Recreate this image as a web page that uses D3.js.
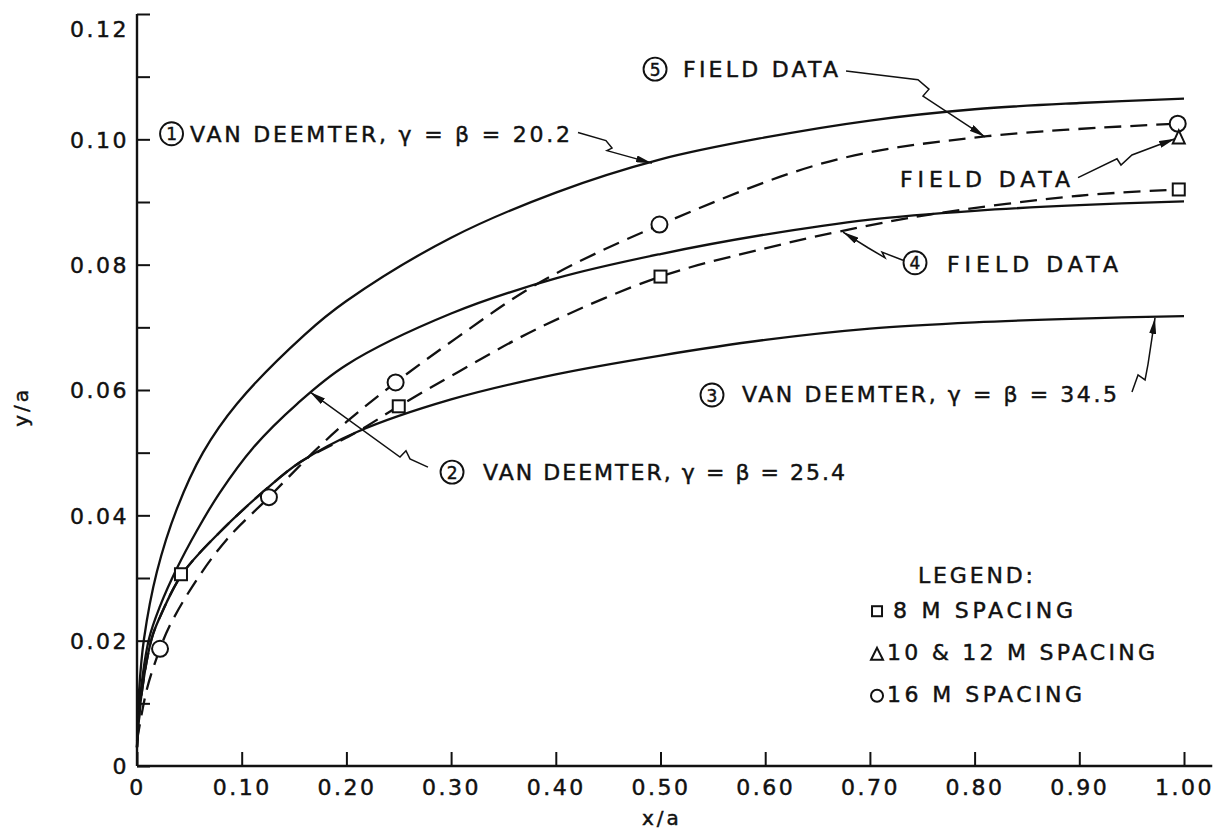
<!DOCTYPE html>
<html><head><meta charset="utf-8">
<script src="https://cdn.jsdelivr.net/npm/d3@7"></script>
<style>
body{margin:0;background:#fff;}
svg{display:block;}
text{font-family:"DejaVu Sans","Noto Sans",sans-serif;fill:#111;stroke:#111;stroke-width:0.45px;}
</style></head><body>
<svg id="chart" width="1230" height="832"></svg>
<script>
// ---------- data ----------
const xTickValues = [0, 0.1, 0.2, 0.3, 0.4, 0.5, 0.6, 0.7, 0.8, 0.9, 1.0];
const xTickLabels = ["0", "0.10", "0.20", "0.30", "0.40", "0.50", "0.60", "0.70", "0.80", "0.90", "1.00"];
const yTickValues = [0, 0.01, 0.02, 0.03, 0.04, 0.05, 0.06, 0.07, 0.08, 0.09, 0.10, 0.11, 0.12];
const yLabelValues = [0, 0.02, 0.04, 0.06, 0.08, 0.10, 0.12];
const yLabelText = ["0", "0.02", "0.04", "0.06", "0.08", "0.10", "0.12"];

// (1) Van Deemter, gamma = beta = 20.2
const curve1X = [0, 0.002, 0.0067, 0.019, 0.038, 0.063, 0.0955, 0.16, 0.2, 0.3, 0.4, 0.5, 0.6, 0.7, 0.8, 0.9, 1.0];
const curve1Y = [0.003, 0.012, 0.0203, 0.031, 0.041, 0.0500, 0.0578, 0.0688, 0.0742, 0.0843, 0.0915, 0.0968, 0.1003, 0.1030, 0.1048, 0.1058, 0.1065];
// (2) Van Deemter, gamma = beta = 25.4
const curve2X = [0, 0.003, 0.0115, 0.022, 0.038, 0.057, 0.079, 0.111, 0.153, 0.2, 0.3, 0.4, 0.5, 0.6, 0.7, 0.8, 0.9, 1.0];
const curve2Y = [0.003, 0.011, 0.0203, 0.0255, 0.0315, 0.0375, 0.0436, 0.0508, 0.0578, 0.0640, 0.0722, 0.0778, 0.0817, 0.0848, 0.0872, 0.0886, 0.0895, 0.0901];
// (3) Van Deemter, gamma = beta = 34.5
const curve3X = [0, 0.004, 0.014, 0.022, 0.043, 0.079, 0.127, 0.156, 0.21, 0.3, 0.4, 0.5, 0.6, 0.7, 0.8, 0.9, 1.0];
const curve3Y = [0.003, 0.011, 0.0203, 0.0238, 0.0306, 0.0373, 0.0447, 0.0485, 0.0533, 0.0585, 0.0625, 0.0655, 0.0680, 0.0698, 0.0708, 0.0714, 0.0718];
// (4) Field data (8 m spacing), dashed
const field4X = [0, 0.004, 0.014, 0.022, 0.043, 0.079, 0.127, 0.156, 0.21, 0.25, 0.306, 0.385, 0.5, 0.6, 0.671, 0.757, 0.9, 0.995];
const field4Y = [0.003, 0.011, 0.0203, 0.0238, 0.0306, 0.0373, 0.0447, 0.0485, 0.0533, 0.0574, 0.0628, 0.0700, 0.0781, 0.0826, 0.0853, 0.0880, 0.0910, 0.0920];
// (5) Field data (16 m spacing), dashed
const field5X = [0, 0.0095, 0.022, 0.031, 0.055, 0.086, 0.126, 0.168, 0.2, 0.247, 0.306, 0.385, 0.5, 0.662, 0.812, 0.995];
const field5Y = [0.004, 0.0123, 0.0187, 0.0223, 0.0292, 0.0362, 0.0429, 0.0500, 0.0549, 0.0612, 0.0684, 0.0772, 0.0864, 0.0965, 0.1005, 0.1025];

// measured points
const sq8X = [0.042, 0.25, 0.5, 0.995];
const sq8Y = [0.0306, 0.0574, 0.0781, 0.0920];
const tri1012X = [0.995];
const tri1012Y = [0.1003];
const circ16X = [0.022, 0.126, 0.247, 0.499, 0.994];
const circ16Y = [0.0187, 0.0429, 0.0612, 0.0864, 0.1025];

// ---------- layout ----------
const W = 1230, H = 832;
const svg = d3.select("#chart");
svg.append("rect").attr("width", W).attr("height", H).attr("fill", "#fff");

const x = d3.scaleLinear().domain([0, 1]).range([137, 1184]);
const y = d3.scaleLinear().domain([0, 0.12]).range([766, 14]);

const defs = svg.append("defs");
defs.append("marker").attr("id", "arrow")
  .attr("viewBox", "0 0 16 7").attr("refX", 16).attr("refY", 3.5)
  .attr("markerWidth", 16).attr("markerHeight", 7)
  .attr("markerUnits", "userSpaceOnUse").attr("orient", "auto")
  .append("path").attr("d", "M0,0 L16,3.5 L0,7 Z").attr("fill", "#111");

const ink = "#111";

// ---------- axes ----------
const gy = svg.append("g").attr("transform", `translate(${x(0)},0)`)
  .call(d3.axisLeft(y).tickValues(yTickValues).tickSizeInner(-13).tickSizeOuter(0).tickPadding(8)
    .tickFormat(d => { const i = yLabelValues.findIndex(v => Math.abs(v - d) < 1e-9); return i >= 0 ? yLabelText[i] : ""; }));
gy.select(".domain").remove();
gy.selectAll(".tick line").attr("stroke", ink).attr("stroke-width", 2);
gy.selectAll(".tick text").attr("font-size", 22).attr("letter-spacing", "2.5px")
  .attr("font-family", "DejaVu Sans").attr("fill", ink)
  .attr("dy", d => Math.abs(d - 0.12) < 1e-9 ? "1.0em" : "0.36em");

const gx = svg.append("g").attr("transform", `translate(0,${y(0)})`)
  .call(d3.axisBottom(x).tickValues(xTickValues).tickSizeInner(-14).tickSizeOuter(0).tickPadding(13)
    .tickFormat((d, i) => xTickLabels[i]));
gx.select(".domain").remove();
gx.selectAll(".tick line").attr("stroke", ink).attr("stroke-width", 2);
gx.selectAll(".tick text").attr("font-size", 22).attr("letter-spacing", "2.5px")
  .attr("font-family", "DejaVu Sans").attr("fill", ink);

// axis lines
svg.append("line").attr("x1", x(0)).attr("x2", x(1.027)).attr("y1", y(0)).attr("y2", y(0))
  .attr("stroke", ink).attr("stroke-width", 2.4);
svg.append("line").attr("x1", x(0)).attr("x2", x(0)).attr("y1", y(0)).attr("y2", y(0.12))
  .attr("stroke", ink).attr("stroke-width", 2.4);

// axis titles
svg.append("text").attr("x", x(0.5014)).attr("y", y(-0.0094)).attr("text-anchor", "middle")
  .attr("font-size", 20).attr("letter-spacing", "3px").text("x/a");
svg.append("text").attr("transform", `translate(${x(-0.1137) + 10},${y(0.0573)}) rotate(-90)`)
  .attr("text-anchor", "middle").attr("font-size", 20).attr("letter-spacing", "3px").text("y/a");

// ---------- curves ----------
const line = d3.line().x(d => x(d[0])).y(d => y(d[1])).curve(d3.curveCatmullRom.alpha(0.5));
const zip = (a, b) => a.map((v, i) => [v, b[i]]);

[[curve1X, curve1Y], [curve2X, curve2Y], [curve3X, curve3Y]].forEach(([a, b]) => {
  svg.append("path").attr("d", line(zip(a, b))).attr("fill", "none")
    .attr("stroke", ink).attr("stroke-width", 2.3);
});
[[field4X, field4Y], [field5X, field5Y]].forEach(([a, b]) => {
  svg.append("path").attr("d", line(zip(a, b))).attr("fill", "none")
    .attr("stroke", ink).attr("stroke-width", 2.3).attr("stroke-dasharray", "17,9");
});

// ---------- markers ----------
const mk = svg.append("g").attr("fill", "#fff").attr("stroke", ink).attr("stroke-width", 2);
zip(circ16X, circ16Y).forEach(([a, b]) => mk.append("circle").attr("cx", x(a)).attr("cy", y(b)).attr("r", 8));
zip(sq8X, sq8Y).forEach(([a, b]) => mk.append("rect").attr("x", x(a) - 6).attr("y", y(b) - 6).attr("width", 12).attr("height", 12));
zip(tri1012X, tri1012Y).forEach(([a, b]) => {
  const cx = x(a), cy = y(b);
  mk.append("path").attr("d", `M${cx},${cy - 7} L${cx + 6},${cy + 6} L${cx - 6},${cy + 6} Z`);
});

// ---------- annotations ----------
const labels = [
  { num: "1", c: [0.0330, 0.1009], t: [0.0506, 0.0996], text: "VAN DEEMTER, γ = β = 20.2", len: 380 },
  { num: "5", c: [0.4948, 0.1112], t: [0.5215, 0.1099], text: "FIELD DATA", len: 155 },
  { num: null, c: null, t: [0.7288, 0.0924], text: "FIELD DATA", len: 170 },
  { num: "4", c: [0.7431, 0.0803], t: [0.7736, 0.0788], text: "FIELD DATA", len: 171 },
  { num: "3", c: [0.5492, 0.0592], t: [0.5778, 0.0581], text: "VAN DEEMTER, γ = β = 34.5", len: 375 },
  { num: "2", c: [0.3009, 0.0469], t: [0.3305, 0.0456], text: "VAN DEEMTER, γ = β = 25.4", len: 362 }
];
const leaders = [
  [[0.4212, 0.1011], [0.4479, 0.0998], [0.4537, 0.0986], [0.4489, 0.0982], [0.4919, 0.0962]],
  [[0.6772, 0.1109], [0.7459, 0.1095], [0.7564, 0.1080], [0.7507, 0.1069], [0.8099, 0.1004]],
  [[0.8988, 0.0939], [0.9360, 0.0969], [0.9398, 0.0959], [0.9503, 0.0975], [0.9914, 0.1001]],
  [[0.7316, 0.0807], [0.7116, 0.0820], [0.7144, 0.0811], [0.6982, 0.0827], [0.6743, 0.0852]],
  [[0.9503, 0.0597], [0.9561, 0.0624], [0.9628, 0.0616], [0.9656, 0.0641], [0.9723, 0.0715]],
  [[0.2779, 0.0477], [0.2607, 0.0490], [0.2569, 0.0503], [0.2512, 0.0493], [0.1652, 0.0597]]
];

const ann = svg.append("g");
labels.forEach(l => {
  if (l.num) {
    ann.append("circle").attr("cx", x(l.c[0])).attr("cy", y(l.c[1])).attr("r", 11.5)
      .attr("fill", "none").attr("stroke", ink).attr("stroke-width", 1.9);
    ann.append("text").attr("x", x(l.c[0])).attr("y", y(l.c[1]) + 6.5).attr("text-anchor", "middle")
      .attr("font-size", 17).text(l.num);
  }
  ann.append("text").attr("x", x(l.t[0])).attr("y", y(l.t[1])).attr("font-size", 22)
    .attr("textLength", l.len).attr("lengthAdjust", "spacing").text(l.text);
});
const straight = d3.line().x(d => x(d[0])).y(d => y(d[1]));
leaders.forEach(p => {
  ann.append("path").attr("d", straight(p)).attr("fill", "none").attr("stroke", ink)
    .attr("stroke-width", 1.5).attr("marker-end", "url(#arrow)");
});

// ---------- legend ----------
const legendRows = [
  { sym: null, t: [0.7459, 0.0292], text: "LEGEND:", len: 115 },
  { sym: "square", s: [0.7068, 0.0247], t: [0.7221, 0.0236], text: "8 M SPACING", len: 180 },
  { sym: "triangle", s: [0.7068, 0.0179], t: [0.7163, 0.0169], text: "10 & 12 M SPACING", len: 268 },
  { sym: "circle", s: [0.7068, 0.0112], t: [0.7163, 0.0102], text: "16 M SPACING", len: 195 }
];
const lg = svg.append("g");
legendRows.forEach(r => {
  if (r.sym) {
    const cx = x(r.s[0]), cy = y(r.s[1]);
    const g = lg.append("g").attr("fill", "none").attr("stroke", ink).attr("stroke-width", 2);
    if (r.sym === "square") g.append("rect").attr("x", cx - 5).attr("y", cy - 5).attr("width", 10).attr("height", 10);
    if (r.sym === "triangle") g.append("path").attr("d", `M${cx},${cy - 6} L${cx + 6},${cy + 6} L${cx - 6},${cy + 6} Z`);
    if (r.sym === "circle") g.append("circle").attr("cx", cx).attr("cy", cy).attr("r", 6);
  }
  lg.append("text").attr("x", x(r.t[0])).attr("y", y(r.t[1])).attr("font-size", 22)
    .attr("textLength", r.len).attr("lengthAdjust", "spacing").text(r.text);
});
</script>
</body></html>
